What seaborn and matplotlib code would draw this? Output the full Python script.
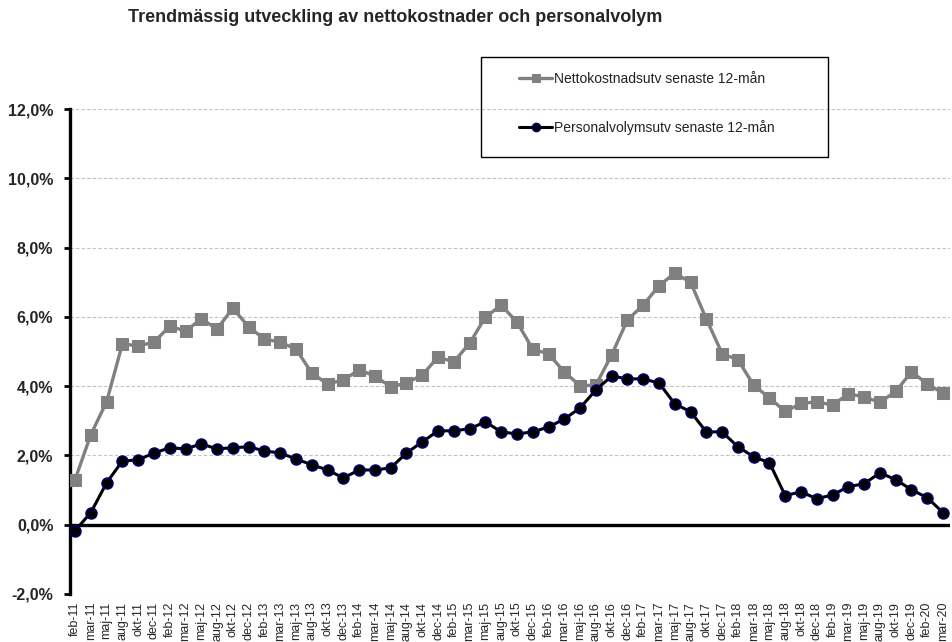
import matplotlib
matplotlib.use("Agg")
import matplotlib.pyplot as plt
import matplotlib.ticker as mticker
from matplotlib.patches import Rectangle
import seaborn as sns
import pandas as pd

# etiketter (sex mätpunkter per år)
perioder = [
    'feb-11', 'mar-11', 'maj-11', 'aug-11', 'okt-11', 'dec-11',
    'feb-12', 'mar-12', 'maj-12', 'aug-12', 'okt-12', 'dec-12',
    'feb-13', 'mar-13', 'maj-13', 'aug-13', 'okt-13', 'dec-13',
    'feb-14', 'mar-14', 'maj-14', 'aug-14', 'okt-14', 'dec-14',
    'feb-15', 'mar-15', 'maj-15', 'aug-15', 'okt-15', 'dec-15',
    'feb-16', 'mar-16', 'maj-16', 'aug-16', 'okt-16', 'dec-16',
    'feb-17', 'mar-17', 'maj-17', 'aug-17', 'okt-17', 'dec-17',
    'feb-18', 'mar-18', 'maj-18', 'aug-18', 'okt-18', 'dec-18',
    'feb-19', 'mar-19', 'maj-19', 'aug-19', 'okt-19', 'dec-19',
    'feb-20', 'mar-20',
]

# nettokostnadsutveckling senaste 12 mån (%)
nettokostnad = [
    1.30, 2.60, 3.55, 5.22, 5.16, 5.27,
    5.73, 5.59, 5.94, 5.65, 6.25, 5.71,
    5.36, 5.27, 5.07, 4.38, 4.06, 4.18,
    4.47, 4.29, 3.98, 4.09, 4.32, 4.84,
    4.70, 5.24, 5.99, 6.34, 5.85, 5.07,
    4.93, 4.41, 4.01, 4.03, 4.90, 5.91,
    6.34, 6.90, 7.26, 7.00, 5.94, 4.94,
    4.76, 4.03, 3.66, 3.27, 3.50, 3.55,
    3.45, 3.78, 3.69, 3.53, 3.85, 4.41,
    4.07, 3.79,
]

# personalvolymsutveckling senaste 12 mån (%)
personalvolym = [
    -0.17, 0.35, 1.21, 1.84, 1.87, 2.07,
    2.22, 2.19, 2.33, 2.19, 2.22, 2.25,
    2.13, 2.07, 1.90, 1.73, 1.58, 1.35,
    1.58, 1.58, 1.64, 2.07, 2.39, 2.71,
    2.71, 2.77, 2.97, 2.68, 2.62, 2.68,
    2.82, 3.05, 3.37, 3.89, 4.29, 4.21,
    4.21, 4.09, 3.49, 3.26, 2.68, 2.68,
    2.25, 1.96, 1.79, 0.84, 0.95, 0.75,
    0.86, 1.10, 1.18, 1.50, 1.30, 1.01,
    0.78, 0.35,
]

df = pd.DataFrame({
    'pos': range(len(perioder)),
    'netto': nettokostnad,
    'personal': personalvolym,
})

sns.set_style('white')
plt.rcParams['font.family'] = ['Liberation Sans', 'DejaVu Sans']

fig = plt.figure(figsize=(9.53, 6.42), dpi=100)
ax = fig.add_axes([70 / 953, 1 - 594 / 642, 880 / 953, (594 - 109) / 642])

# stödlinjer
for v in range(-2, 13, 2):
    ax.axhline(v, color='#c0c0c0', linewidth=0.8, linestyle=(0, (3, 2)), zorder=0)
ax.axhline(0, color='black', linewidth=2.4, zorder=1)

sns.lineplot(data=df, x='pos', y='netto', ax=ax, color='#808080', linewidth=2.4,
             marker='s', markersize=8, markeredgecolor='#808080', markerfacecolor='#808080',
             label='Nettokostnadsutv senaste 12-mån', zorder=3)
sns.lineplot(data=df, x='pos', y='personal', ax=ax, color='black', linewidth=2.2,
             marker='o', markersize=8, markeredgecolor='#00007a', markerfacecolor='black',
             markeredgewidth=1.0, label='Personalvolymsutv senaste 12-mån', zorder=4)

ax.set_xlim(-0.32, len(perioder) - 1 + 0.44)
ax.set_ylim(-2, 12)
ax.set_yticks(range(-2, 13, 2))
ax.yaxis.set_major_formatter(mticker.FuncFormatter(lambda v, p: f'{v:.1f}%'.replace('.', ',')))
ax.set_xticks(df['pos'])
ax.set_xticklabels(perioder, rotation=90, fontsize=9)
ax.set_xlabel('')
ax.set_ylabel('')

for lab in ax.get_yticklabels():
    lab.set_fontweight('bold')
    lab.set_fontsize(11.5)

for s in ['top', 'right', 'bottom']:
    ax.spines[s].set_visible(False)
ax.spines['left'].set_color('black')
ax.spines['left'].set_linewidth(2.4)
ax.tick_params(axis='y', left=True, length=4, width=2, color='black', pad=8)
ax.tick_params(axis='x', bottom=False, pad=2)

# legend med egen ram
ax.get_legend().remove()
fig.patches.append(Rectangle((481 / 953, 1 - 157 / 642), 347 / 953, 100 / 642,
                             transform=fig.transFigure, fill=False,
                             edgecolor='black', linewidth=1.0))
h, l = ax.get_legend_handles_labels()
leg = fig.legend(h, l, loc='upper left', bbox_to_anchor=(519 / 953, 1 - 72 / 642),
                 frameon=False, fontsize=10, labelspacing=2.45, markerscale=0.75,
                 borderpad=0, handlelength=2.4, handletextpad=0.12, borderaxespad=0)
for t in leg.get_texts():
    t.set_color('#222222')

fig.text(395 / 953, 1 - 18 / 642, 'Trendmässig utveckling av nettokostnader och personalvolym',
         ha='center', va='center', fontsize=13, fontweight='bold')

fig.savefig('out.png', dpi=100)
